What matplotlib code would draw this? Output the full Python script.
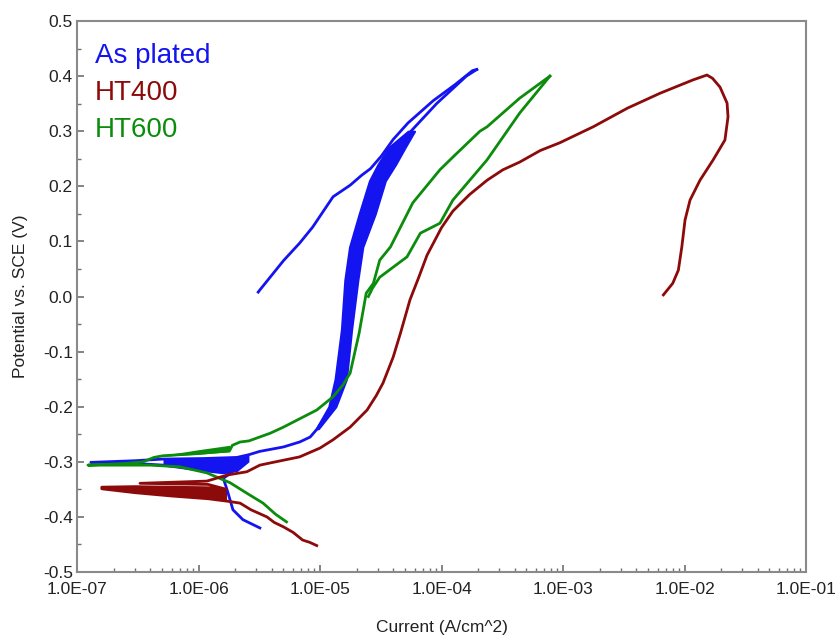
import matplotlib
matplotlib.use('Agg')
import matplotlib.pyplot as plt
from matplotlib.ticker import LogLocator, FixedLocator, MultipleLocator, FuncFormatter, NullFormatter, FormatStrFormatter

plt.rcParams['font.family'] = ['Liberation Sans', 'DejaVu Sans']
plt.rcParams['axes.unicode_minus'] = False

# 颜色
c_blue = '#1414f0'
c_red = '#8c0a0a'
c_green = '#0c8c0c'

# As plated: 正扫 (电流 A/cm^2, 电位 V)
blue_fwd_I = [3.2e-6, 2.32e-6, 1.92e-6, 1.72e-6, 1.6e-6, 1.9e-6, 1.6e-6, 1.1e-6, 5.1e-7, 3.0e-7, 1.3e-7,
              3.0e-7, 5.1e-7, 1.1e-6, 2.07e-6, 2.6e-6, 3.2e-6, 5.0e-6, 6.8e-6, 8.3e-6, 9.5e-6, 1.25e-5, 1.48e-5,
              1.65e-5, 1.8e-5, 1.98e-5, 2.45e-5, 2.95e-5, 3.55e-5, 4.3e-5, 5.6e-5, 9.1e-5, 1.6e-4, 1.95e-4]
blue_fwd_E = [-0.420, -0.405, -0.387, -0.351, -0.330, -0.318, -0.320, -0.316, -0.306, -0.303, -0.301,
              -0.298, -0.295, -0.294, -0.292, -0.287, -0.281, -0.273, -0.264, -0.255, -0.240, -0.200, -0.150,
              -0.060, 0.030, 0.090, 0.150, 0.210, 0.240, 0.270, 0.300, 0.350, 0.400, 0.412]
# As plated: 回扫
blue_rev_I = [1.95e-4, 1.8e-4, 1.3e-4, 8.5e-5, 5.3e-5, 4.0e-5, 3.2e-5, 2.6e-5, 2.2e-5, 1.77e-5, 1.28e-5, 8.7e-6,
              6.8e-6, 5.0e-6, 3.2e-6, 3.1e-6]
blue_rev_E = [0.412, 0.410, 0.385, 0.355, 0.315, 0.285, 0.255, 0.232, 0.220, 0.202, 0.181, 0.126,
              0.097, 0.065, 0.012, 0.008]
# As plated: 噪声带
blue_band_E = [-0.24, -0.20, -0.15, -0.06, 0.03, 0.09, 0.15, 0.21, 0.24, 0.27, 0.30]
blue_band_lo = [9.3e-6, 1.18e-5, 1.33e-5, 1.5e-5, 1.6e-5, 1.75e-5, 2.1e-5, 2.55e-5, 3.0e-5, 3.65e-5, 5.3e-5]
blue_band_hi = [9.7e-6, 1.35e-5, 1.65e-5, 1.82e-5, 2.05e-5, 2.25e-5, 2.85e-5, 3.45e-5, 4.2e-5, 5.0e-5, 6.0e-5]
blue_wedge_I = [5.1e-7, 1.1e-6, 1.6e-6, 2.07e-6, 2.6e-6]
blue_wedge_lo = [-0.306, -0.316, -0.320, -0.318, -0.300]
blue_wedge_hi = [-0.295, -0.294, -0.294, -0.292, -0.287]

# HT400: 正扫 + 回扫
red_I = [9.4e-6, 8.2e-6, 7.2e-6, 6.0e-6, 5.0e-6, 4.2e-6, 3.66e-6, 2.7e-6, 2.2e-6, 1.8e-6,
         1.2e-6, 6e-7, 3e-7, 1.6e-7, 1.6e-7, 3e-7, 6e-7, 1.2e-6, 1.7e-6, 1.2e-6, 3.3e-7, 1.17e-6,
         1.72e-6, 2.5e-6, 3.2e-6, 3.9e-6, 6.8e-6, 1.0e-5, 1.28e-5, 1.77e-5, 2.44e-5, 2.9e-5, 3.3e-5, 4.0e-5,
         4.6e-5, 5.5e-5, 6.5e-5, 7.6e-5, 1.0e-4, 1.24e-4, 1.7e-4, 2.37e-4, 3.2e-4, 4.4e-4, 6.5e-4, 9.4e-4,
         1.77e-3, 3.4e-3, 6.3e-3, 1.17e-2, 1.53e-2,
         1.7e-2, 1.96e-2, 2.24e-2, 2.28e-2, 2.15e-2, 1.72e-2, 1.34e-2, 1.11e-2, 1.01e-2, 9.5e-3, 8.9e-3, 8.0e-3, 6.7e-3]
red_E = [-0.452, -0.446, -0.442, -0.428, -0.418, -0.410, -0.400, -0.387, -0.375, -0.372,
         -0.367, -0.362, -0.356, -0.349, -0.346, -0.345, -0.346, -0.347, -0.350, -0.341, -0.339, -0.335,
         -0.324, -0.318, -0.306, -0.302, -0.291, -0.275, -0.260, -0.237, -0.206, -0.180, -0.157, -0.110,
         -0.066, -0.006, 0.035, 0.075, 0.125, 0.155, 0.185, 0.211, 0.230, 0.244, 0.265, 0.279,
         0.308, 0.342, 0.369, 0.393, 0.402,
         0.396, 0.380, 0.351, 0.326, 0.284, 0.248, 0.211, 0.175, 0.139, 0.090, 0.048, 0.024, 0.003]
red_wedge_I = [1.6e-7, 3e-7, 6e-7, 1.2e-6, 1.7e-6]
red_wedge_lo = [-0.349, -0.356, -0.362, -0.367, -0.370]
red_wedge_hi = [-0.345, -0.345, -0.346, -0.347, -0.350]

# HT600: 正扫
green_fwd_I = [5.3e-6, 4.3e-6, 3.4e-6, 2.5e-6, 1.82e-6, 1.17e-6, 7e-7, 4e-7, 2.5e-7, 1.23e-7,
               2.5e-7, 3.5e-7, 4.3e-7, 5.1e-7, 1.0e-6, 1.8e-6, 1.9e-6, 2.2e-6, 2.6e-6, 3.9e-6, 5.0e-6, 9.4e-6,
               1.28e-5, 1.55e-5, 1.77e-5, 2.1e-5, 2.4e-5, 2.75e-5, 3.1e-5, 3.8e-5, 5.8e-5, 9.7e-5, 1.24e-4,
               2.07e-4, 2.37e-4, 4.4e-4, 7.8e-4]
green_fwd_E = [-0.409, -0.395, -0.375, -0.357, -0.338, -0.320, -0.309, -0.306, -0.306, -0.306,
               -0.303, -0.300, -0.292, -0.289, -0.285, -0.280, -0.270, -0.264, -0.262, -0.248, -0.237, -0.206,
               -0.182, -0.160, -0.139, -0.066, 0.006, 0.024, 0.066, 0.090, 0.170, 0.230, 0.253,
               0.300, 0.308, 0.360, 0.400]
# HT600: 回扫
green_rev_I = [7.8e-4, 4.4e-4, 2.37e-4, 1.24e-4, 9.7e-5, 6.7e-5, 5.2e-5, 3.1e-5, 2.7e-5, 2.5e-5]
green_rev_E = [0.400, 0.333, 0.248, 0.175, 0.133, 0.115, 0.072, 0.035, 0.015, 0.0]
green_wedge_I = [5.1e-7, 1.0e-6, 1.8e-6]
green_wedge_lo = [-0.290, -0.286, -0.282]
green_wedge_hi = [-0.288, -0.278, -0.270]

labels = ['As plated', 'HT400', 'HT600']
x_ticks = [1e-7, 1e-6, 1e-5, 1e-4, 1e-3, 1e-2, 1e-1]

fig = plt.figure(figsize=(8.37, 6.37), dpi=100)
ax = fig.add_axes([0.092, 0.102, 0.871, 0.865])

lw = 2.0
ax.plot(blue_fwd_I, blue_fwd_E, color=c_blue, lw=lw)
ax.plot(blue_rev_I, blue_rev_E, color=c_blue, lw=lw)
ax.fill_betweenx(blue_band_E, blue_band_lo, blue_band_hi, color=c_blue, lw=1.5)
ax.fill_between(blue_wedge_I, blue_wedge_lo, blue_wedge_hi, color=c_blue, lw=0)

ax.plot(green_fwd_I, green_fwd_E, color=c_green, lw=lw)
ax.plot(green_rev_I, green_rev_E, color=c_green, lw=lw)
ax.fill_between(green_wedge_I, green_wedge_lo, green_wedge_hi, color=c_green, lw=0)

ax.plot(red_I, red_E, color=c_red, lw=lw)
ax.fill_between(red_wedge_I, red_wedge_lo, red_wedge_hi, color=c_red, lw=0)

ax.set_xscale('log')
ax.set_xlim(1e-7, 1e-1)
ax.set_ylim(-0.5, 0.5)

ax.xaxis.set_major_locator(FixedLocator(x_ticks))
ax.xaxis.set_major_formatter(FuncFormatter(lambda v, p: '%.1E' % v))
ax.xaxis.set_minor_locator(LogLocator(base=10, subs=range(2, 10)))
ax.xaxis.set_minor_formatter(NullFormatter())
ax.yaxis.set_major_locator(MultipleLocator(0.1))
ax.yaxis.set_minor_locator(MultipleLocator(0.05))
ax.yaxis.set_major_formatter(FormatStrFormatter('%.1f'))

ax.tick_params(which='both', direction='in', colors='#707070', labelcolor='#222222', labelsize=12.5)
ax.tick_params(which='major', length=5, width=1.2)
ax.tick_params(which='minor', length=3, width=1.0)
ax.tick_params(axis='x', pad=7)
ax.tick_params(axis='y', pad=3)

for s in ax.spines.values():
    s.set_color('#8a8a8a')
    s.set_linewidth(1.5)

ax.set_xlabel('Current (A/cm^2)', fontsize=12.5, color='#222222', va='center')
ax.set_ylabel('Potential vs. SCE (V)', fontsize=12.5, color='#222222', va='center')
ax.xaxis.set_label_coords(0.5, -0.1)
ax.yaxis.set_label_coords(-0.078, 0.5)

# 图例文字
ypos = [0.923, 0.857, 0.789]
for t, c, yy in zip(labels, [c_blue, c_red, c_green], ypos):
    ax.text(0.025, yy, t, color=c, fontsize=20, transform=ax.transAxes, va='baseline', ha='left')

fig.savefig('out.png', dpi=100)
